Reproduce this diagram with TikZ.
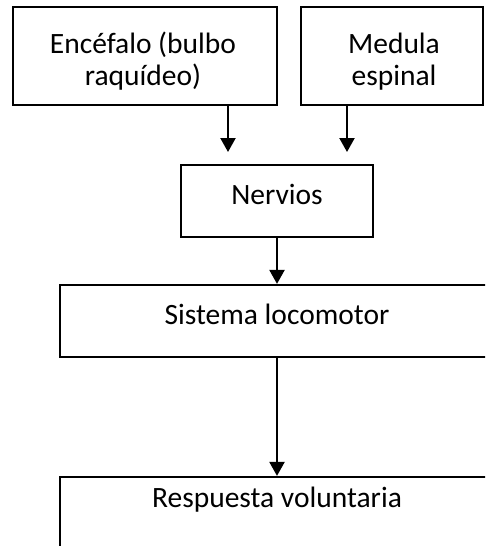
\documentclass[tikz,border=0pt]{standalone}
\usepackage{fontspec}
\setmainfont{Carlito}
\usetikzlibrary{arrows.meta}
\begin{document}
\begin{tikzpicture}[x=1pt,y=-1pt,
  box/.style={draw, line width=2.2pt, rectangle, inner sep=0pt},
  lbl/.style={anchor=base, inner sep=0pt, font=\fontsize{29.5}{32}\selectfont, align=center},
  arr/.style={line width=2.2pt, -{Triangle[width=15pt,length=14pt]}}]
\useasboundingbox (0,0) rectangle (485,546);
\clip (0,0) rectangle (485,546);
% boxes
\node[box, minimum width=264pt, minimum height=98pt] (enc) at (145,56) {};
\node[box, minimum width=182pt, minimum height=98pt] (med) at (392,56) {};
\node[box, minimum width=192pt, minimum height=72pt] (nerv) at (277,201) {};
\node[box, minimum width=440pt, minimum height=72pt] (sis) at (280,321) {};
\node[box, minimum width=440pt, minimum height=93pt] (resp) at (280,523.5) {};
% texts
\node[lbl] (tenc) at (143,85) {Encéfalo (bulbo\\raquídeo)};
\node[lbl] (tmed) at (394,85) {Medula\\espinal};
\node[lbl] (tnerv) at (277,204) {Nervios};
\node[lbl] (tsis) at (277,324) {Sistema locomotor};
\node[lbl] (tresp) at (277,507) {Respuesta voluntaria};
% arrows
\coordinate (t1) at (228,152);
\coordinate (t2) at (347,152);
\draw[arr] (enc.south -| t1) -- (t1);
\draw[arr] (med.south -| t2) -- (t2);
\draw[arr] (nerv.south) -- (nerv.south |- sis.north);
\draw[arr] (sis.south -| nerv.south) -- (nerv.south |- resp.north);
\end{tikzpicture}
\end{document}
